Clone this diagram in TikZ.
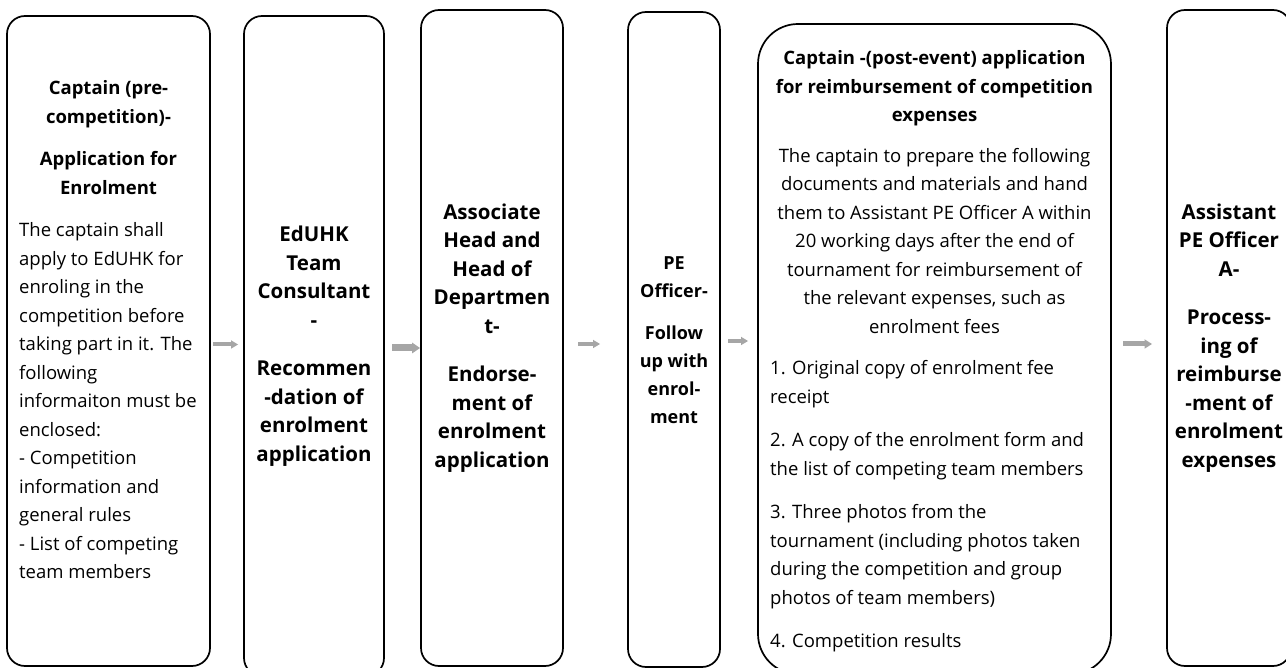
\documentclass[tikz,border=0pt]{standalone}
\usepackage{fontspec}
\setmainfont{Open Sans}
\usetikzlibrary{arrows.meta}
\definecolor{arrowgray}{HTML}{A6A6A6}
\begin{document}
\begin{tikzpicture}[x=1pt,y=-1pt,
  card/.style={draw=black, line width=1.7pt, rounded corners=18pt, inner sep=0pt, outer sep=0pt},
  bodytext/.style={inner sep=0pt, font=\fontsize{18.5}{28.5}\selectfont},
  headtext/.style={inner sep=0pt, align=center, font=\bfseries\fontsize{18.5}{28.5}\selectfont},
  midtext/.style={inner sep=0pt, align=center, font=\bfseries\fontsize{18}{28}\selectfont},
  bigtext/.style={inner sep=0pt, align=center, font=\bfseries\fontsize{20.5}{28.5}\selectfont},
  flow/.style n args={3}{draw=arrowgray, line width=#1,
    -{Triangle[length=#3, width=#2, line width=0pt]}}
]
\useasboundingbox (0,0) rectangle (1286,668);

% process cards
\node[card, minimum width=203pt, minimum height=650pt] (b1) at (108.5,341) {};
\node[card, minimum width=140pt, minimum height=660pt] (b2) at (314,346) {};
\node[card, minimum width=142pt, minimum height=656pt] (b3) at (492,338) {};
\node[card, minimum width=92pt,  minimum height=655pt] (b4) at (674,339.5) {};
\node[card, rounded corners=40pt, minimum width=353pt, minimum height=650pt] (b5) at (934.5,349) {};
\node[card, minimum width=124pt, minimum height=656pt] (b6) at (1229,338) {};

% card 1
\node[headtext] (t1h) at (108.5,137.75)
  {Captain (pre-\\competition)-\\[14pt]Application for\\Enrolment};
\node[bodytext, align=left, anchor=west] (t1b) at (19,401)
  {The captain shall\\apply to EdUHK for\\enroling in the\\competition before\\taking part in it. The\\following\\informaiton must be\\enclosed:\\- Competition\\information and\\general rules\\- List of competing\\team members};

% card 2
\node[bigtext] (t2) at (314,346)
  {EdUHK\\Team\\Consultant\\-\\[20pt]Recommen\\-dation of\\enrolment\\application};

% card 3
\node[bigtext] (t3) at (492,338)
  {Associate\\Head and\\Head of\\Departmen\\t-\\[20pt]Endorse-\\ment of\\enrolment\\application};

% card 4
\node[midtext] (t4) at (674,340)
  {PE\\Officer-\\[14pt]Follow\\up with\\enrol-\\ment};

% card 5
\node[headtext] (t5h) at (934.5,88.5)
  {Captain -(post-event) application\\for reimbursement of competition\\expenses};
\node[bodytext, align=center] (t5b) at (934.5,241)
  {The captain to prepare the following\\documents and materials and hand\\them to Assistant PE Officer A within\\20 working days after the end of\\tournament for reimbursement of\\the relevant expenses, such as\\enrolment fees};
\node[bodytext, align=left, anchor=west] (t5l) at (770,506.5)
  {1. Original copy of enrolment fee\\receipt\\[15pt]2. A copy of the enrolment form and\\the list of competing team members\\[15pt]3. Three photos from the\\tournament (including photos taken\\during the competition and group\\photos of team members)\\[15pt]4. Competition results};

% card 6
\node[bigtext] (t6) at (1229,338)
  {Assistant\\PE Officer\\A-\\[20pt]Process-\\ing of\\reimburse\\-ment of\\enrolment\\expenses};

% flow arrows between the cards
\coordinate (a1s) at (213,344.5);  \coordinate (a1e) at (238,344.5);
\coordinate (a2s) at (392,348);    \coordinate (a2e) at (420,348);
\coordinate (a3s) at (578,344);    \coordinate (a3e) at (600,344);
\coordinate (a4s) at (728,341);    \coordinate (a4e) at (748,341);
\coordinate (a5s) at (1123,344);   \coordinate (a5e) at (1152,344);
\draw[flow={4pt}{8.5pt}{7pt}] (a1s) -- (a1e);
\draw[flow={7pt}{11pt}{8pt}] (a2s) -- (a2e);
\draw[flow={4pt}{8.5pt}{7pt}] (a3s) -- (a3e);
\draw[flow={4pt}{8.5pt}{7pt}] (a4s) -- (a4e);
\draw[flow={5pt}{9.5pt}{7.5pt}] (a5s) -- (a5e);
\end{tikzpicture}
\end{document}
